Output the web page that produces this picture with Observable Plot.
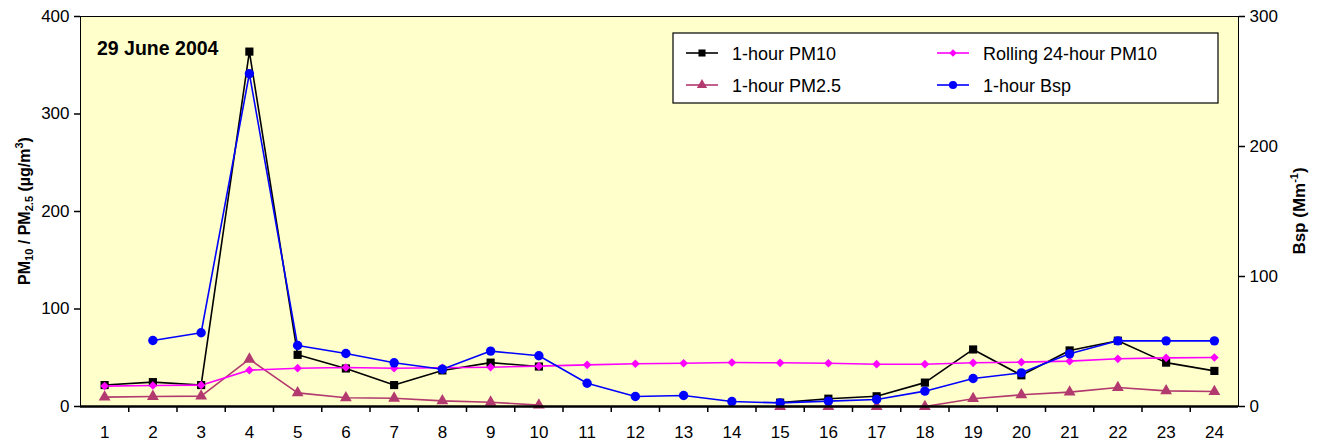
<!DOCTYPE html>
<html><head><meta charset="utf-8">
<script src="https://cdn.jsdelivr.net/npm/d3@7"></script>
<script src="https://cdn.jsdelivr.net/npm/@observablehq/plot@0.6"></script>
<style>body{margin:0;background:#fff;font-family:"Liberation Sans",Arial,sans-serif}</style>
</head><body><div id="chart"></div>
<script>
const hours = [1,2,3,4,5,6,7,8,9,10,11,12,13,14,15,16,17,18,19,20,21,22,23,24];
const pm10 = [22,25,22,364,53,39,22,37,45,41,null,null,null,null,4,8,10.5,24.5,58.5,32,57.5,67.5,45,36.5];
const pm25 = [9.6,10.3,10.6,48.5,14,9,8.5,5.8,4.4,1.4,null,null,null,null,0,0,0,0,8,12,14.7,19.5,16,15.4];
const rolling = [20.9,21.5,21.9,37.3,39.3,40,39.3,39.7,40.3,41.4,42.7,43.8,44.4,45.1,44.8,44.4,43.4,43.4,44.8,45.5,46.5,48.9,49.9,50.3];
const bsp = [null,50.8,56.7,256,46.9,40.8,33.6,28.7,42.6,39,17.9,7.7,8.5,3.8,2.8,4.1,5.4,11.8,21.5,25.9,40.5,50.5,50.5,50.5];
const leftTicks = [0,100,200,300,400];
const rightTicks = [0,100,200,300];
const leftMax = 400, rightMax = 300;
const K = leftMax / rightMax;

const series = [
  {name:"1-hour PM10", values:pm10, color:"#000000", symbol:"square", r:4.6, scale:1},
  {name:"1-hour PM2.5", values:pm25, color:"#B23A6E", symbol:"triangle", r:4.4, scale:1},
  {name:"Rolling 24-hour PM10", values:rolling, color:"#FF00FF", symbol:"diamond2", r:3.9, scale:1},
  {name:"1-hour Bsp", values:bsp, color:"#0000FF", symbol:"circle", r:4.7, scale:K}
];

const boundaries = hours.slice(0,-1).map(h => h + 0.5);

const marks = [Plot.frame({fill:"#FFFFCC", stroke:null})];
for (const s of series) {
  const data = hours.map((h,i) => ({h, v: s.values[i] == null ? null : s.values[i]*s.scale}));
  marks.push(Plot.line(data, {x:"h", y:"v", stroke:s.color, strokeWidth:1.6}));
}
for (const s of series) {
  const data = hours.map((h,i) => ({h, v: s.values[i] == null ? null : s.values[i]*s.scale})).filter(d => d.v != null);
  marks.push(Plot.dot(data, {x:"h", y:"v", fill:s.color, stroke:null, symbol:s.symbol, r:s.r}));
}
marks.push(
  Plot.axisX({ticks:hours, tickSize:0, tickPadding:19, tickFormat:d=>String(d), fontSize:17, label:null}),
  Plot.axisX({ticks:boundaries, tickSize:6, tickFormat:()=>"", label:null, stroke:"black", strokeWidth:1.5}),
  Plot.axisY({ticks:leftTicks, tickSize:6, tickPadding:5, fontSize:17, label:null, strokeWidth:1.5}),
  Plot.axisY({anchor:"right", ticks:rightTicks.map(v=>v*K), tickFormat:v=>String(Math.round(v/K)), tickSize:6, tickPadding:5, fontSize:17, label:null, strokeWidth:1.5}),
  Plot.frame({stroke:"black", strokeWidth:1}),
  Plot.ruleY([0], {stroke:"black", strokeWidth:2.5})
);

const svg = Plot.plot({
  width:1327, height:448,
  marginLeft:80, marginRight:89, marginTop:16, marginBottom:42,
  style:{fontFamily:"'Liberation Sans', Arial, sans-serif", fontSize:"17px", background:"white", color:"#000", overflow:"visible"},
  x:{domain:[0.5,24.5]},
  y:{domain:[0,leftMax]},
  marks
});
document.getElementById("chart").appendChild(svg);

const sel = d3.select(svg);
const ff = "'Liberation Sans', Arial, sans-serif";

// title
sel.append("text").attr("x",97).attr("y",55).attr("text-anchor","start").attr("font-family",ff).attr("font-size",19.5).attr("font-weight","bold").text("29 June 2004");

// left axis label
const yl = sel.append("text").attr("transform","translate(30,211) rotate(-90)").attr("text-anchor","middle")
  .attr("font-family",ff).attr("font-size",16).attr("font-weight","bold");
yl.append("tspan").text("PM");
yl.append("tspan").attr("font-size",11).attr("dy",3).text("10");
yl.append("tspan").attr("dy",-3).text(" / PM");
yl.append("tspan").attr("font-size",11).attr("dy",3).text("2.5");
yl.append("tspan").attr("dy",-3).text(" (µg/m");
yl.append("tspan").attr("font-size",11).attr("dy",-7).text("3");
yl.append("tspan").attr("dy",7).text(")");

// right axis label
const yr = sel.append("text").attr("transform","translate(1305,211) rotate(-90)").attr("text-anchor","middle")
  .attr("font-family",ff).attr("font-size",17).attr("font-weight","bold");
yr.append("tspan").text("Bsp (Mm");
yr.append("tspan").attr("font-size",11).attr("dy",-7).text("-1");
yr.append("tspan").attr("dy",7).text(")");

// legend
const lg = sel.append("g").attr("font-family",ff).attr("font-size",18).attr("text-anchor","start");
lg.append("rect").attr("x",673).attr("y",33).attr("width",545).attr("height",70).attr("fill","white").attr("stroke","black").attr("stroke-width",1.2);
const order = [[0,0,0],[1,0,1],[2,1,0],[3,1,1]];
for (const [i,col,row] of order) {
  const s = series[i];
  const x0 = 686 + col*251, y0 = 53 + row*32;
  lg.append("line").attr("x1",x0).attr("x2",x0+32).attr("y1",y0).attr("y2",y0).attr("stroke",s.color).attr("stroke-width",1.6);
  const sym = {square:d3.symbolSquare, triangle:d3.symbolTriangle, diamond2:d3.symbolDiamond2, circle:d3.symbolCircle}[s.symbol];
  lg.append("path").attr("d", d3.symbol(sym, Math.PI*s.r*s.r*0.75)()).attr("transform",`translate(${x0+16},${y0})`).attr("fill",s.color);
  lg.append("text").attr("x",x0+46).attr("y",y0+6.5).text(s.name);
}
</script></body></html>
